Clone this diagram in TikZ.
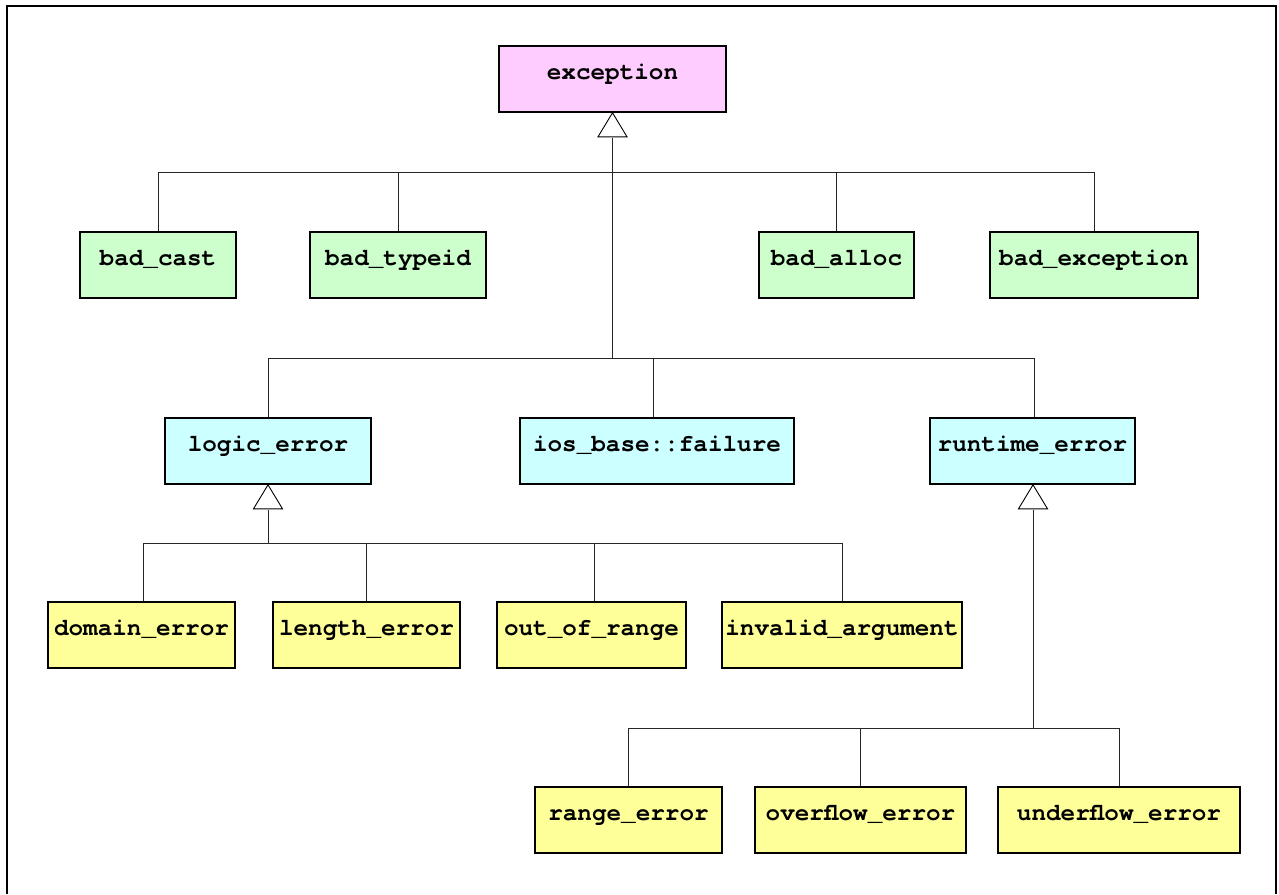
\documentclass[tikz,border=0pt]{standalone}
\usepackage{fontspec}
\setmonofont{TeX Gyre Cursor}
\definecolor{cpink}{HTML}{FFCCFF}
\definecolor{cgreen}{HTML}{CCFFCC}
\definecolor{ccyan}{HTML}{CCFFFF}
\definecolor{cyel}{HTML}{FFFF99}
\tikzset{
  cls/.style={draw=black, line width=1.6pt, minimum height=66pt, text height=10pt, text depth=10pt, inner sep=0pt, font=\ttfamily\bfseries\fontsize{24.3}{27}\selectfont},
  conn/.style={line width=0.9pt, draw=black!85},
  tri/.style={draw=black, line width=0.9pt, fill=white},
}
\begin{document}
\begin{tikzpicture}[x=1pt,y=-1pt]
\useasboundingbox (0,0) rectangle (1279,894);
\draw[line width=2pt] (7,894) -- (7,6) -- (1276,6) -- (1276,894);
% nodes
\node[cls, fill=cpink, minimum width=227pt] (exc) at (612.5,79) {exception};
\node[cls, fill=cgreen, minimum width=156pt] (bcast) at (158,265) {bad\_cast};
\node[cls, fill=cgreen, minimum width=176pt] (btype) at (398,265) {bad\_typeid};
\node[cls, fill=cgreen, minimum width=155pt] (balloc) at (836.5,265) {bad\_alloc};
\node[cls, fill=cgreen, minimum width=208pt] (bexc) at (1094,265) {bad\_exception};
\node[cls, fill=ccyan, minimum width=206pt] (logic) at (268,451) {logic\_error};
\node[cls, fill=ccyan, minimum width=274pt] (ios) at (657,451) {ios\_base::failure};
\node[cls, fill=ccyan, minimum width=205pt] (runtime) at (1032.5,451) {runtime\_error};
\node[cls, fill=cyel, minimum width=187pt] (domain) at (141.5,635) {domain\_error};
\node[cls, fill=cyel, minimum width=187pt] (length) at (366.5,635) {length\_error};
\node[cls, fill=cyel, minimum width=189pt] (oor) at (591.5,635) {out\_of\_range};
\node[cls, fill=cyel, minimum width=240pt] (inv) at (842,635) {invalid\_argument};
\node[cls, fill=cyel, minimum width=187pt] (range) at (628.5,820) {range\_error};
\node[cls, fill=cyel, minimum width=211pt] (over) at (860.5,820) {overflow\_error};
\node[cls, fill=cyel, minimum width=242pt] (under) at (1119,820) {underflow\_error};
% junction coordinates
\coordinate (t1) at (612,138);
\coordinate (h1) at (612,172);
\coordinate (h2) at (612,358);
\coordinate (t2) at (268,510);
\coordinate (h3) at (268,543);
\coordinate (t3) at (1033,510);
\coordinate (h4) at (1033,728);
% exception tree
\draw[conn] (t1) -- (h2);
\draw[conn] (bcast.north) |- (h1);
\draw[conn] (btype.north) |- (h1);
\draw[conn] (balloc.north) |- (h1);
\draw[conn] (bexc.north) |- (h1);
\draw[conn] (logic.north) |- (h2);
\draw[conn] ([xshift=-4pt]ios.north) |- (h2);
\draw[conn] ([xshift=1.5pt]runtime.north) |- (h2);
\draw[tri] (exc.south) -- ++(-14.5,24) -- ++(29,0) -- cycle;
% logic tree
\draw[conn] (t2) -- (h3);
\draw[conn] ([xshift=1.5pt]domain.north) |- (h3);
\draw[conn] (length.north) |- (h3);
\draw[conn] ([xshift=2.5pt]oor.north) |- (h3);
\draw[conn] (inv.north) |- (h3);
\draw[tri] (logic.south) -- ++(-14.5,24) -- ++(29,0) -- cycle;
% runtime tree
\draw[conn] (t3) -- (h4);
\draw[conn] (range.north) |- (h4);
\draw[conn] (over.north) |- (h4);
\draw[conn] (under.north) |- (h4);
\draw[tri] ([xshift=0.5pt]runtime.south) -- ++(-14.5,24) -- ++(29,0) -- cycle;
\end{tikzpicture}
\end{document}
